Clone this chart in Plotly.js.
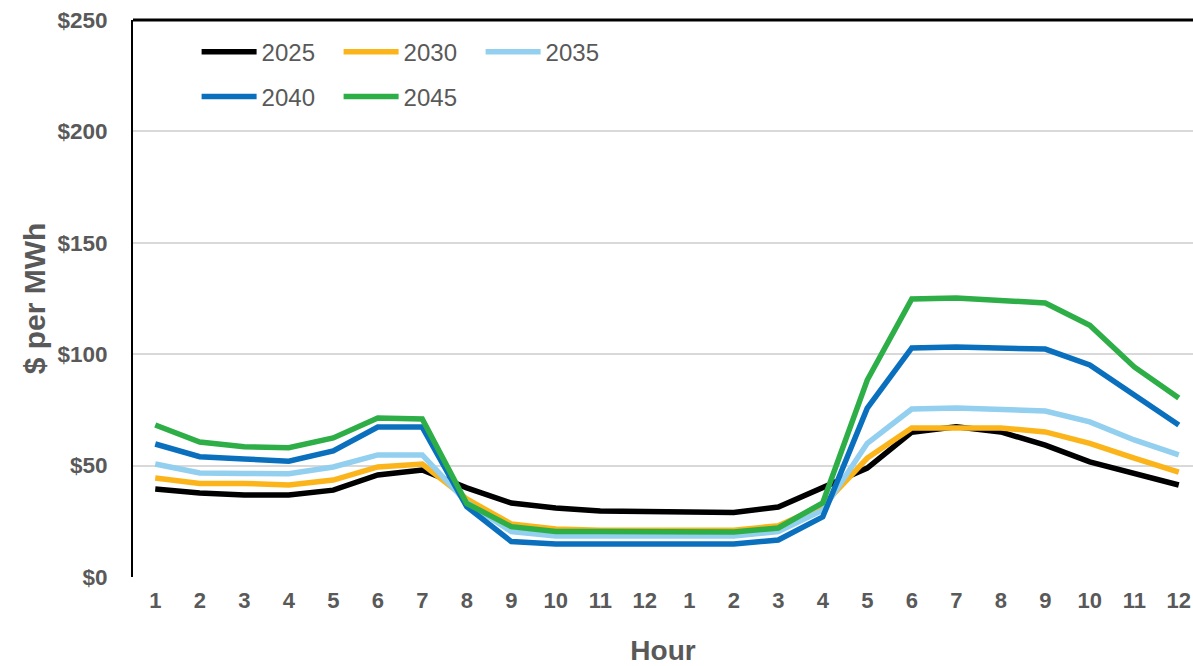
<!DOCTYPE html>
<html>
<head>
<meta charset="utf-8">
<script src="https://cdn.plot.ly/plotly-3.0.1.min.js"></script>
<style>
html,body{margin:0;padding:0;background:#fff;}
#chart{width:1193px;height:666px;}
</style>
</head>
<body>
<div id="chart"></div>
<script>
const hourLabels = ['1','2','3','4','5','6','7','8','9','10','11','12','1','2','3','4','5','6','7','8','9','10','11','12'];
const seriesNames = ['2025','2030','2035','2040','2045'];
const y2025 = [39.5, 37.7, 36.8, 36.8, 39, 45.8, 48, 40, 33.2, 31, 29.6, 29.2, 29, 29, 31.4, 40.4, 48.9, 65, 67.4, 65.1, 59.2, 51.7, 46.7, 41.3];
const y2030 = [44.4, 42, 42, 41.3, 43.5, 49.4, 50.7, 35, 23.8, 21.5, 21, 21, 21, 21, 23, 32, 53.4, 66.9, 66.9, 66.9, 65.1, 60, 53.4, 47.1];
const y2035 = [50.7, 46.7, 46.5, 46.3, 49.4, 54.8, 54.8, 33.5, 20.4, 18.4, 18.4, 18.4, 18.4, 18.4, 20.4, 30, 60, 75.4, 75.9, 75.4, 74.5, 69.6, 61.5, 54.8];
const y2040 = [59.7, 54, 53, 52, 56.6, 67.3, 67.3, 31.6, 15.9, 14.8, 14.8, 14.8, 14.8, 14.8, 16.6, 27, 75.8, 102.8, 103.2, 103, 102.3, 95.2, 81.7, 68.2];
const y2045 = [68.2, 60.6, 58.5, 58, 62.4, 71.4, 70.9, 33, 22.6, 20.4, 20.4, 20.4, 20.2, 20.2, 22, 33.3, 88.4, 124.8, 125.2, 124.3, 123, 113, 94.3, 80.3];
const yTickVals = [0, 50, 100, 150, 200, 250];
const yTickText = ['$0', '$50', '$100', '$150', '$200', '$250'];

const xIdx = hourLabels.map((_, i) => i + 1);
const allY = [y2025, y2030, y2035, y2040, y2045];
const colors = ['#000000', '#FBB51B', '#93CFEF', '#0A70BE', '#2DAE47'];
const legends = ['legend', 'legend', 'legend', 'legend2', 'legend2'];

const traces = allY.map((ys, k) => ({
  type: 'scatter', mode: 'lines', x: xIdx, y: ys, name: seriesNames[k],
  line: {color: colors[k], width: 5.5}, legend: legends[k]
}));

const textColor = '#595959';
const font = {family: 'Liberation Sans, Arial, sans-serif', color: textColor};

const legendCommon = {
  orientation: 'h', xanchor: 'left', yanchor: 'middle',
  entrywidth: 72, entrywidthmode: 'pixels', itemwidth: 55,
  bgcolor: 'rgba(0,0,0,0)', font: {family: font.family, size: 24, color: textColor}
};

const layout = {
  width: 1193, height: 666,
  margin: {l: 133, r: 0, t: 20, b: 89},
  paper_bgcolor: '#fff', plot_bgcolor: '#fff',
  font: font,
  xaxis: {
    range: [0.5, 24.32], tickvals: xIdx, ticktext: hourLabels,
    showgrid: false, zeroline: false, showline: false,
    ticks: 'outside', ticklen: 4, tickcolor: 'rgba(0,0,0,0)',
    tickfont: {family: font.family, size: 22, color: textColor, weight: 'bold'},
    title: {text: 'Hour', font: {family: font.family, size: 28, color: textColor, weight: 'bold'}, standoff: 30}
  },
  yaxis: {
    range: [0, 250], tickvals: yTickVals, ticktext: yTickText,
    showgrid: true, gridcolor: '#D9D9D9', gridwidth: 2,
    zeroline: false, showline: true, linecolor: '#000', linewidth: 2,
    ticks: 'outside', ticklen: 19, tickcolor: 'rgba(0,0,0,0)',
    tickfont: {family: font.family, size: 22.5, color: textColor, weight: 'bold'},
    title: {text: '$ per MWh', font: {family: font.family, size: 30, color: textColor, weight: 'bold'}, standoff: 3}
  },
  shapes: [
    {type: 'line', xref: 'paper', yref: 'paper', x0: 0, x1: 1, y0: 1, y1: 1, line: {color: '#000', width: 3}}
  ],
  showlegend: true,
  legend: Object.assign({}, legendCommon, {x: 0.06, y: 0.9425}),
  legend2: Object.assign({}, legendCommon, {x: 0.06, y: 0.862})
};

Plotly.newPlot('chart', traces, layout, {displayModeBar: false, staticPlot: true});
</script>
</body>
</html>
